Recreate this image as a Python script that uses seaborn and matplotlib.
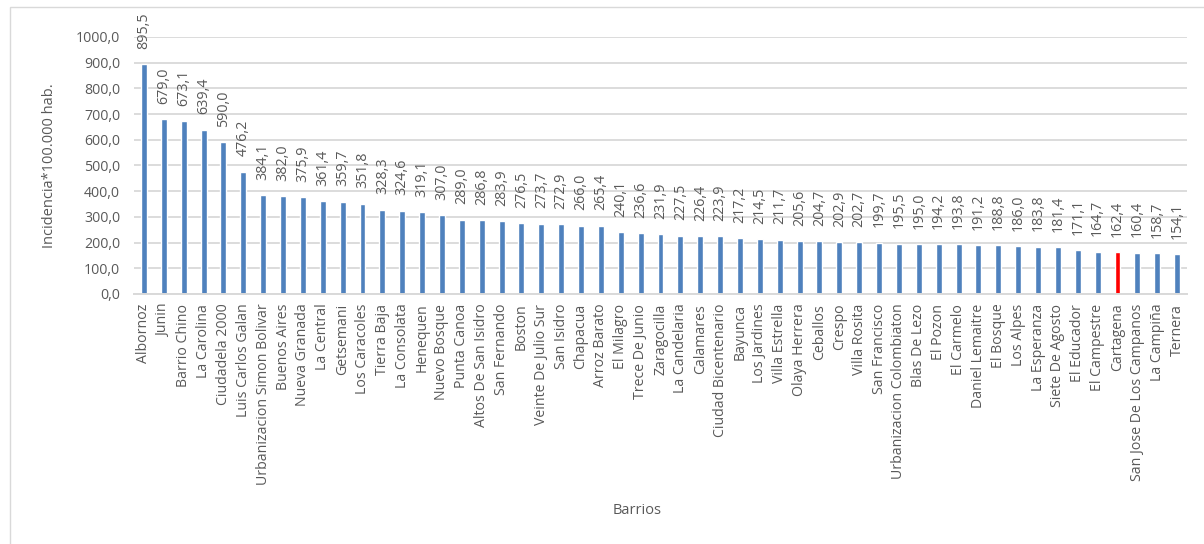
import pandas as pd
import matplotlib.pyplot as plt
import matplotlib.patches as patches
import seaborn as sns

barrios = [
    'Albornoz', 'Junin', 'Barrio Chino', 'La Carolina', 'Ciudadela 2000',
    'Luis Carlos Galan', 'Urbanizacion Simon Bolivar', 'Buenos Aires',
    'Nueva Granada', 'La Central', 'Getsemani', 'Los Caracoles', 'Tierra Baja',
    'La Consolata', 'Henequen', 'Nuevo Bosque', 'Punta Canoa',
    'Altos De San Isidro', 'San Fernando', 'Boston', 'Veinte De Julio Sur',
    'San Isidro', 'Chapacua', 'Arroz Barato', 'El Milagro', 'Trece De Junio',
    'Zaragocilla', 'La Candelaria', 'Calamares', 'Ciudad Bicentenario',
    'Bayunca', 'Los Jardines', 'Villa Estrella', 'Olaya Herrera', 'Ceballos',
    'Crespo', 'Villa Rosita', 'San Francisco', 'Urbanizacion Colombiaton',
    'Blas De Lezo', 'El Pozon', 'El Carmelo', 'Daniel Lemaitre', 'El Bosque',
    'Los Alpes', 'La Esperanza', 'Siete De Agosto', 'El Educador',
    'El Campestre', 'Cartagena', 'San Jose De Los Campanos', 'La Campiña',
    'Ternera'
]
incidencia = [
    895.5, 679.0, 673.1, 639.4, 590.0, 476.2, 384.1, 382.0, 375.9, 361.4,
    359.7, 351.8, 328.3, 324.6, 319.1, 307.0, 289.0, 286.8, 283.9, 276.5,
    273.7, 272.9, 266.0, 265.4, 240.1, 236.6, 231.9, 227.5, 226.4, 223.9,
    217.2, 214.5, 211.7, 205.6, 204.7, 202.9, 202.7, 199.7, 195.5, 195.0,
    194.2, 193.8, 191.2, 188.8, 186.0, 183.8, 181.4, 171.1, 164.7, 162.4,
    160.4, 158.7, 154.1
]
destacado = 'Cartagena'

df = pd.DataFrame({'barrio': barrios, 'incidencia': incidencia})
df['grupo'] = ['total' if b == destacado else 'barrio' for b in df['barrio']]

sns.set_style('white')
plt.rcParams['font.family'] = ['Open Sans', 'DejaVu Sans']
gris = '#595959'

fig = plt.figure(figsize=(12.04, 5.44), dpi=100)
ax = fig.add_axes([0.1113, 0.4596, 0.8746, 0.4724])

sns.barplot(data=df, x='barrio', y='incidencia', hue='grupo',
            palette={'barrio': '#4F81BD', 'total': '#FF0000'},
            width=0.3, dodge=False, legend=False, saturation=1, ax=ax)

for cont in ax.containers:
    ax.bar_label(cont, labels=[f'{v:.1f}'.replace('.', ',') for v in cont.datavalues],
                 rotation=90, padding=11, fontsize=10.3, color=gris, clip_on=False)

ax.set_xlim(-0.5, len(barrios) - 0.5)
ax.set_ylim(0, 1000)
ax.set_yticks(range(0, 1001, 100))
ax.set_yticklabels([f'{v:.1f}'.replace('.', ',') for v in range(0, 1001, 100)])
ax.yaxis.grid(True, color='#D9D9D9', linewidth=1.3)
ax.set_axisbelow(True)
for s in ['top', 'right', 'left']:
    ax.spines[s].set_visible(False)
ax.spines['bottom'].set_color('#D9D9D9')
ax.spines['bottom'].set_linewidth(1.4)
ax.tick_params(axis='x', rotation=90, length=0, pad=7, labelsize=10.2, labelcolor=gris)
ax.tick_params(axis='y', length=0, pad=10, labelsize=10.2, labelcolor=gris)

ax.set_ylabel('Incidencia*100.000 hab.', fontsize=10.5, color=gris)
ax.yaxis.set_label_coords(-0.073, 0.5)
ax.set_xlabel('Barrios', fontsize=10.5, color=gris)
ax.xaxis.set_label_coords(0.478, -0.813)

borde = patches.Rectangle((10 / 1204, -0.05), 1.1, 1 - 7 / 544 + 0.05,
                          transform=fig.transFigure, fill=False,
                          edgecolor='#D9D9D9', linewidth=1, clip_on=False)
fig.patches.append(borde)

fig.savefig('out.png', dpi=100)
